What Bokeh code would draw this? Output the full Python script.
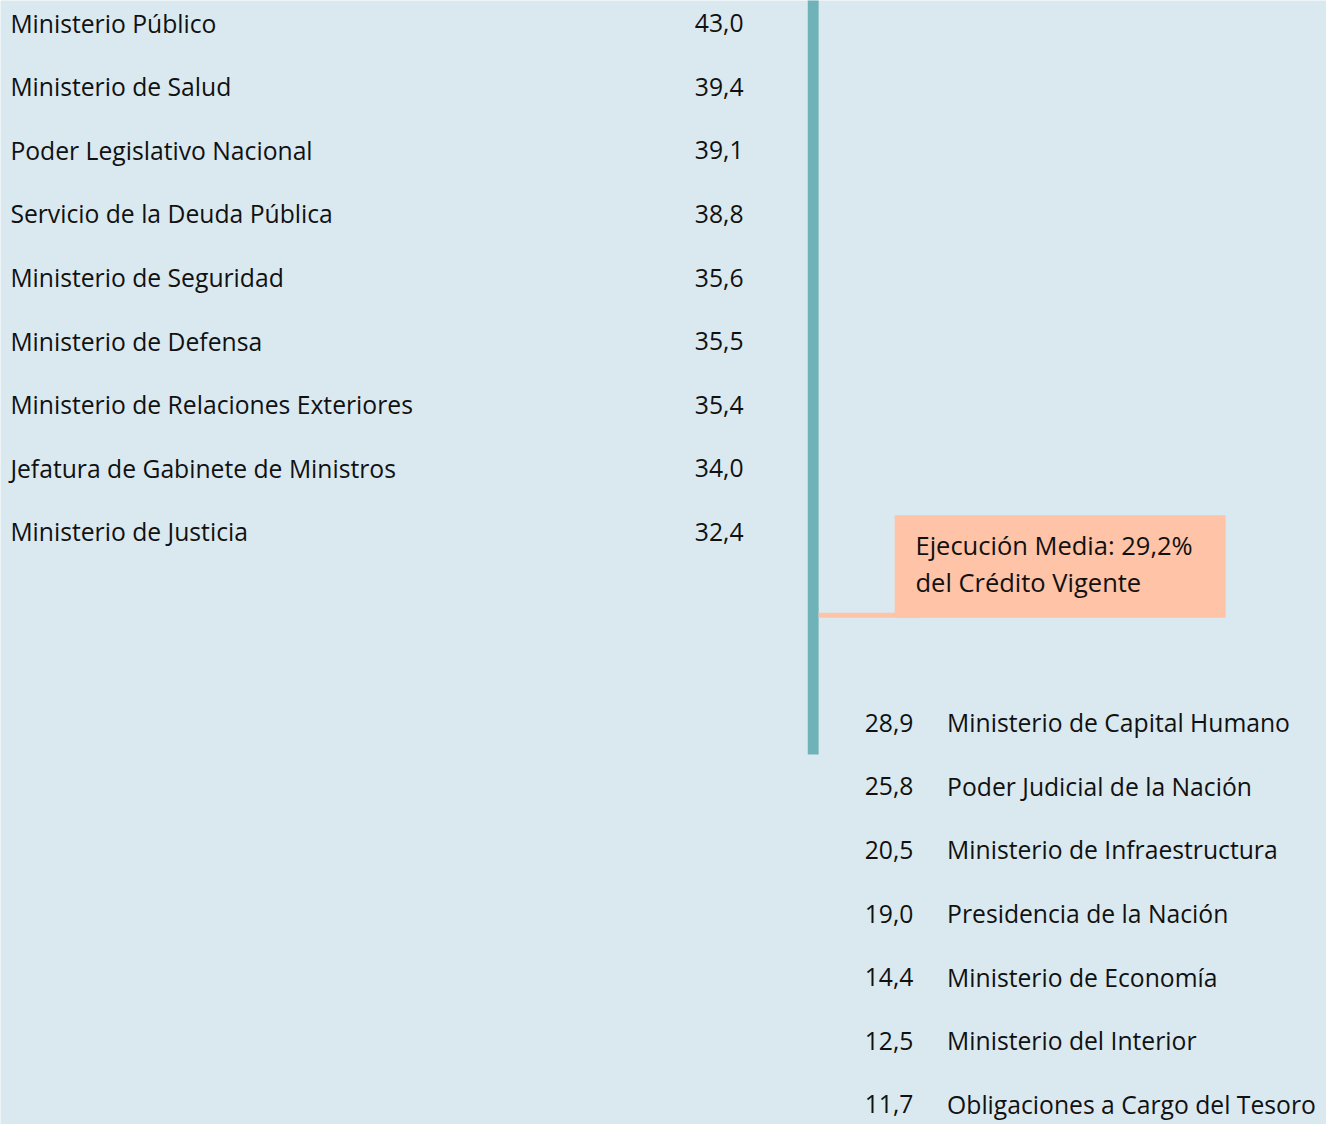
from bokeh.plotting import figure
from bokeh.models import Range1d, ColumnDataSource
from bokeh.core.properties import value
from bokeh.embed import file_html
from bokeh.resources import INLINE

# ---- data ----
above_names = ["Ministerio Público", "Ministerio de Salud", "Poder Legislativo Nacional",
               "Servicio de la Deuda Pública", "Ministerio de Seguridad", "Ministerio de Defensa",
               "Ministerio de Relaciones Exteriores", "Jefatura de Gabinete de Ministros",
               "Ministerio de Justicia"]
above_values = [43.0, 39.4, 39.1, 38.8, 35.6, 35.5, 35.4, 34.0, 32.4]
below_names = ["Ministerio de Capital Humano", "Poder Judicial de la Nación",
               "Ministerio de Infraestructura", "Presidencia de la Nación",
               "Ministerio de Economía", "Ministerio del Interior",
               "Obligaciones a Cargo del Tesoro"]
below_values = [28.9, 25.8, 20.5, 19.0, 14.4, 12.5, 11.7]
mean_value = 29.2
mean_label = ["Ejecución Media: 29,2%", "del Crédito Vigente"]

def fmt(v):
    return f"{v:.1f}".replace(".", ",")

BG = "#dae9f0"
TEAL = "#6fb3b9"
SALMON = "#ffc3a7"
FONT = value("Open Sans")

ROW = 64.5      # row pitch (layout)
Y0 = 23         # first row centre (layout)

def r(ypix):
    return (ypix - Y0) / ROW

W, H = 1326, 1124
p = figure(width=W, height=H, output_backend="svg", toolbar_location=None,
           x_range=Range1d(0, 1342), y_range=Range1d(r(1140), r(0)),
           min_border=0)
p.axis.visible = False
p.grid.visible = False
p.outline_line_color = None
p.background_fill_color = BG
p.border_fill_color = BG

rows_above = list(range(len(above_names)))
gap = 2
rows_below = [len(above_names) + gap + i for i in range(len(below_names))]

# teal axis bar
p.quad(left=[817], right=[828], top=[-1], bottom=[rows_below[0] + 0.5],
       fill_color=TEAL, line_color=None)

# mean marker line and label box
p.quad(left=[828], right=[932], top=[r(621)], bottom=[r(626)],
       fill_color=SALMON, line_color=None)
p.quad(left=[905], right=[1240], top=[r(522)], bottom=[r(626)],
       fill_color=SALMON, line_color=None)
p.text(x=[926, 926], y=[r(552), r(590)], text=mean_label,
       text_font=FONT, text_font_size="25.5px", text_color="#111111",
       text_align="left", text_baseline="middle")

src_a = ColumnDataSource(dict(y=rows_above, name=above_names,
                              val=[fmt(v) for v in above_values]))
src_b = ColumnDataSource(dict(y=rows_below, name=below_names,
                              val=[fmt(v) for v in below_values]))

common = dict(text_font=FONT, text_font_size="24.7px", text_color="#111111",
              text_baseline="middle")
p.text(x=10, y="y", text="name", source=src_a, text_align="left", **common)
p.text(x=752, y="y", text="val", source=src_a, text_align="right", **common)
p.text(x=924, y="y", text="val", source=src_b, text_align="right", **common)
p.text(x=958, y="y", text="name", source=src_b, text_align="left", **common)

open("out.html", "w").write(file_html(p, INLINE))
